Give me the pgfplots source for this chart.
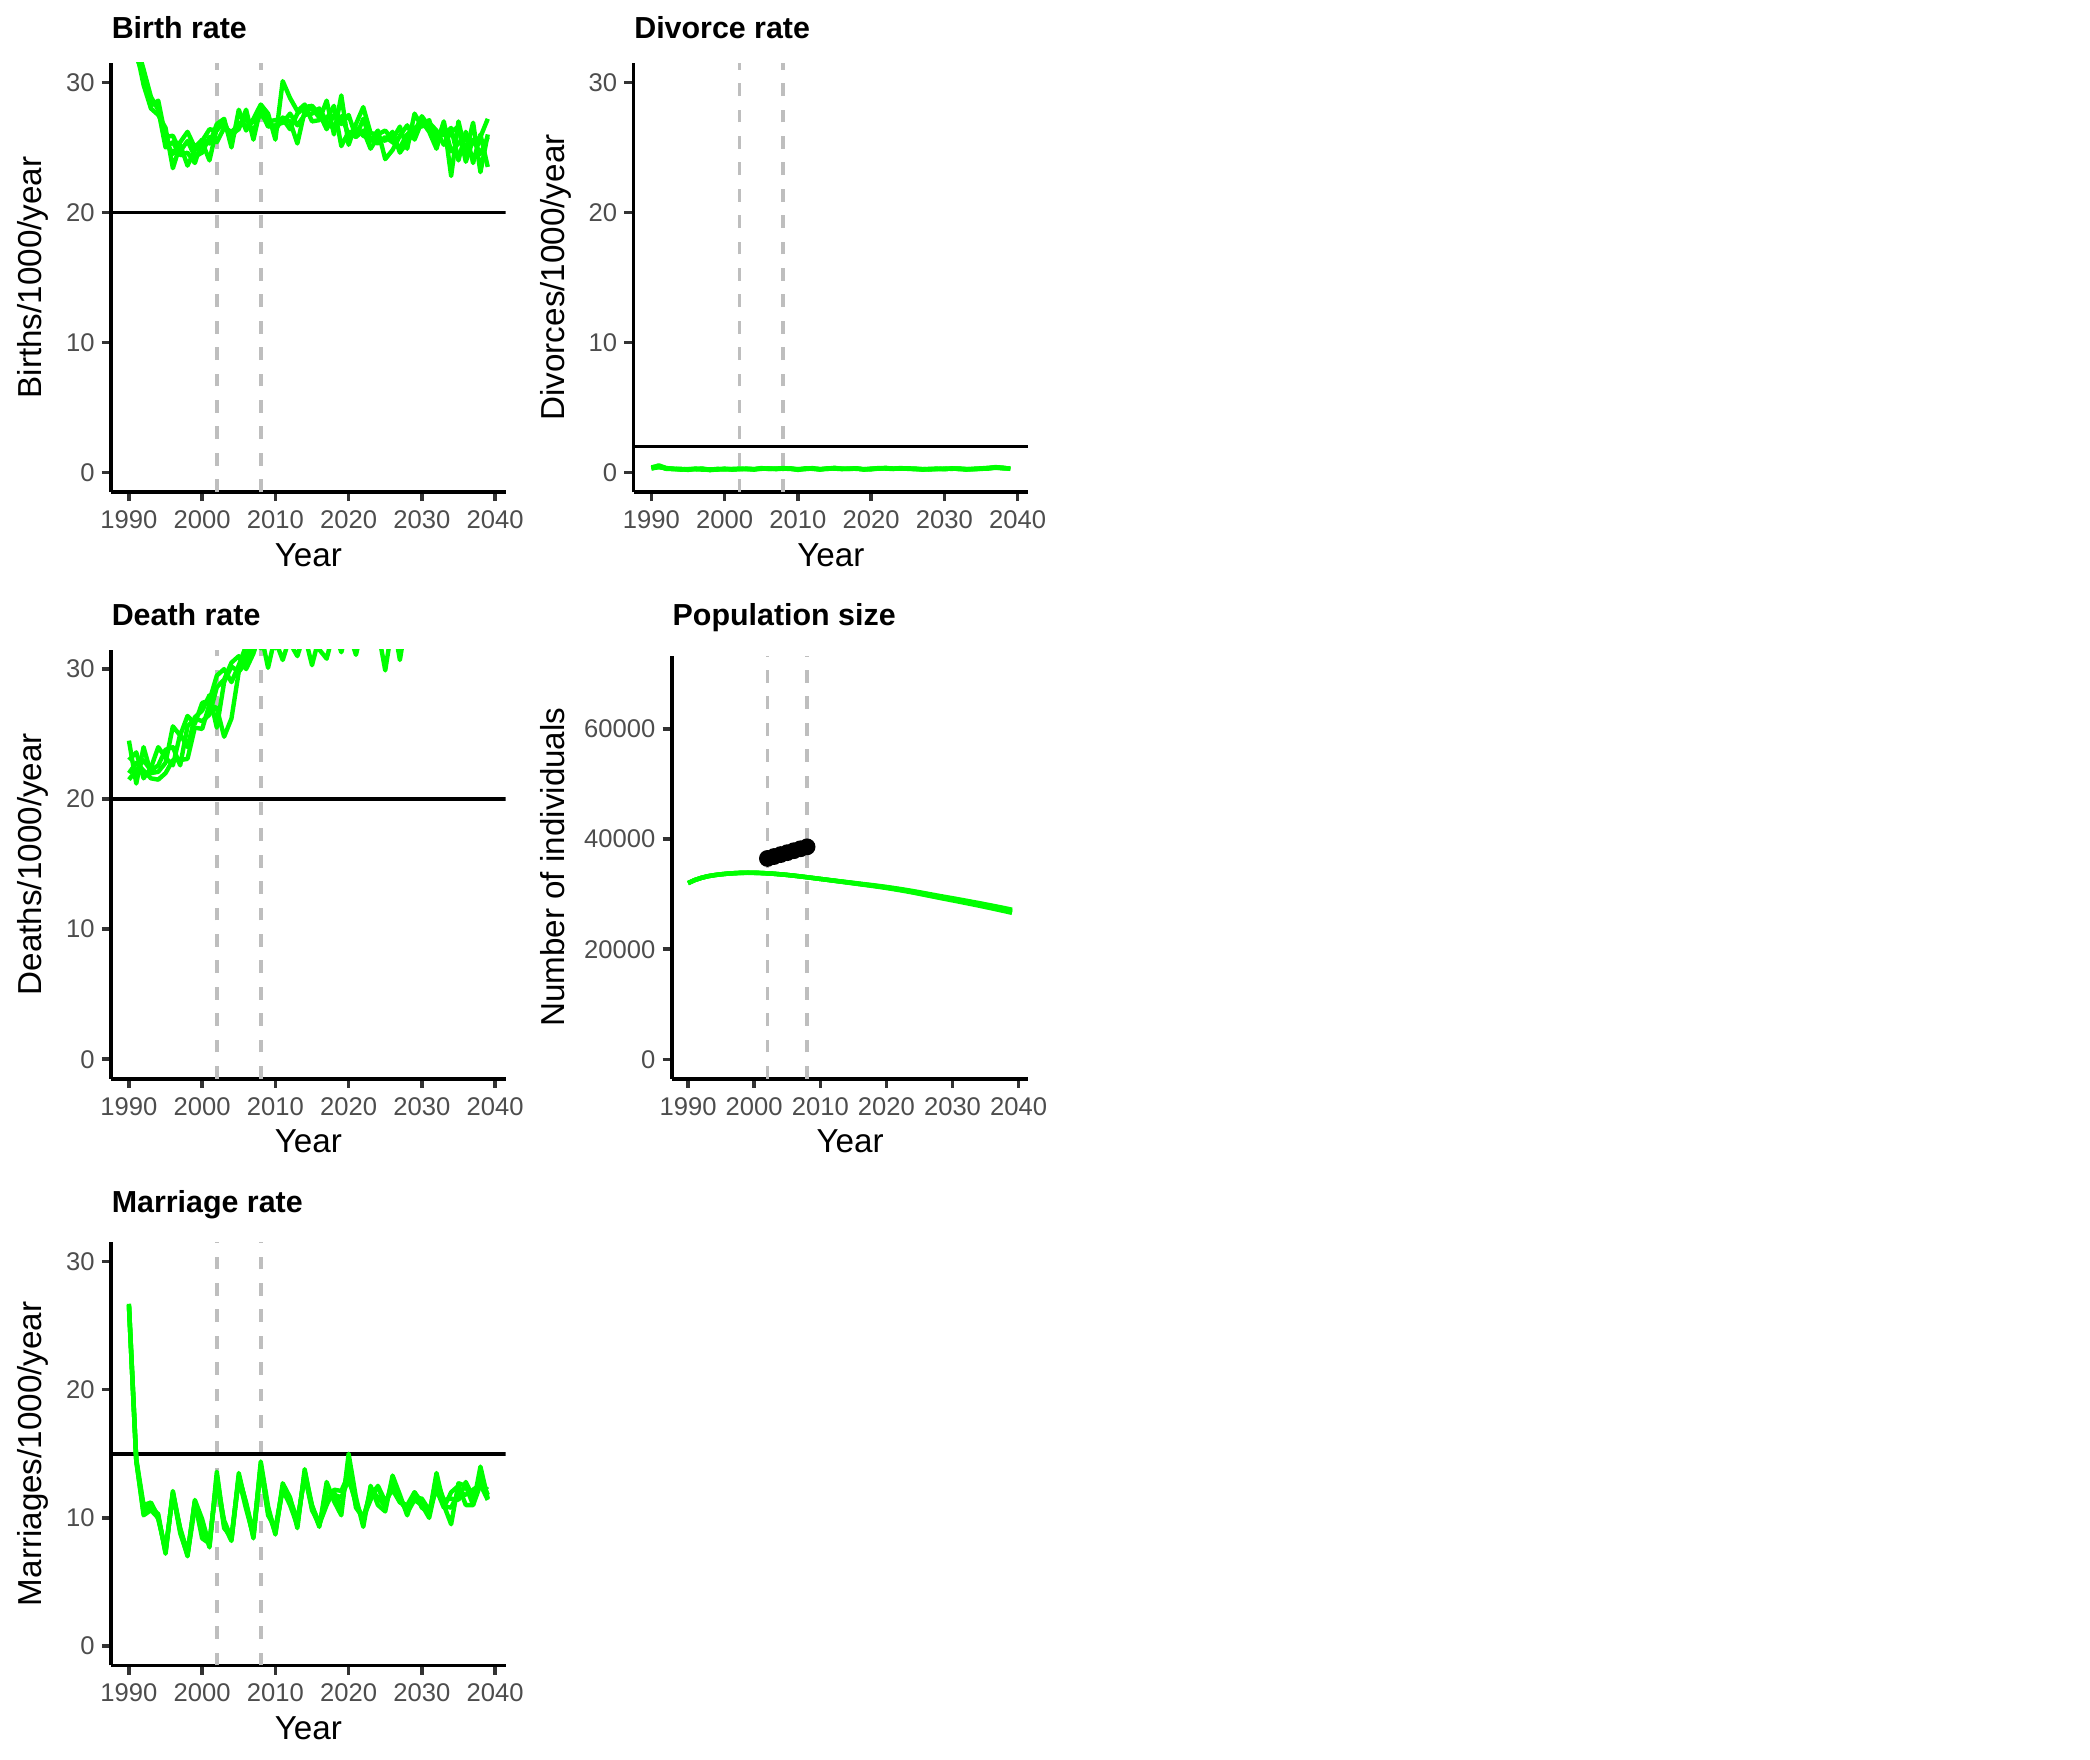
\documentclass[border=0pt]{standalone}
\usepackage{fontspec}
\setmainfont{Liberation Sans}
\usepackage{pgfplots}
\usepackage{pgfplotstable}
\pgfplotsset{compat=1.18}

\definecolor{simgreen}{HTML}{00FF00}
\definecolor{gray30}{HTML}{4D4D4D}
\definecolor{tickgray}{HTML}{333333}
\definecolor{vgray}{HTML}{BEBEBE}

\newcommand\ticksize{\fontsize{6.4bp}{7.7bp}\selectfont}
\newcommand\labsize{\fontsize{8.3bp}{10bp}\selectfont}
\newcommand\titsize{\fontsize{7.6bp}{9bp}\selectfont\bfseries}

% year, four simulation runs
\pgfplotstableread{
year a b c d
1990 38.0 37.0 36.0 35.0
1991 33.5 32.5 33.0 32.0
1992 30.0 29.8 31.0 30.5
1993 28.5 28.0 28.9 28.2
1994 28.3 27.5 27.9 28.6
1995 25.5 26.5 25.0 25.8
1996 24.5 23.4 25.4 25.9
1997 25.4 25.2 24.4 24.7
1998 26.2 23.6 24.6 25.5
1999 25.0 24.8 23.8 24.3
2000 25.6 25.4 25.5 24.6
2001 25.3 24.0 26.4 25.8
2002 26.8 26.5 26.3 25.4
2003 27.2 26.7 27.0 26.5
2004 25.0 26.0 25.6 26.2
2005 27.9 26.4 26.9 26.7
2006 26.3 27.9 26.6 27.2
2007 27.2 25.6 27.0 26.2
2008 28.3 28.1 27.5 27.8
2009 27.6 27.2 27.0 26.6
2010 25.6 26.3 27.1 26.7
2011 30.1 27.3 27.2 26.9
2012 28.8 27.0 26.4 27.6
2013 27.8 25.3 27.6 26.7
2014 28.3 27.8 28.1 27.5
2015 27.0 28.0 28.2 27.6
2016 27.1 27.3 27.6 28.0
2017 28.6 27.2 26.4 27.0
2018 26.0 28.2 27.5 26.4
2019 29.0 25.1 26.8 27.4
2020 25.2 26.2 27.5 26.0
2021 26.8 25.8 25.8 26.5
2022 28.1 26.3 27.2 25.9
2023 26.1 24.9 25.5 25.6
2024 26.0 25.8 26.3 25.3
2025 26.3 25.5 24.1 25.8
2026 25.6 26.2 24.8 25.4
2027 26.6 24.6 25.9 25.0
2028 24.9 25.4 26.7 26.0
2029 27.6 26.2 25.6 26.5
2030 26.6 27.4 27.0 26.8
2031 27.1 26.6 26.2 26.9
2032 25.2 25.8 24.9 26.3
2033 27.0 26.0 26.9 25.2
2034 22.8 26.5 24.7 26.2
2035 27.0 24.0 25.3 26.6
2036 24.6 26.2 26.0 23.9
2037 26.9 23.8 25.4 25.6
2038 23.1 26.0 25.8 24.5
2039 26.0 23.5 27.2 25.8
}\births

\pgfplotstableread{
year a b c d
1990 0.35 0.30 0.40 0.32
1991 0.55 0.45 0.50 0.40
1992 0.35 0.30 0.28 0.33
1993 0.28 0.25 0.30 0.27
1994 0.22 0.26 0.24 0.28
1995 0.25 0.20 0.27 0.23
1996 0.30 0.28 0.25 0.26
1997 0.26 0.30 0.22 0.28
1998 0.18 0.22 0.25 0.20
1999 0.24 0.28 0.22 0.26
2000 0.28 0.25 0.30 0.24
2001 0.22 0.26 0.24 0.27
2002 0.26 0.28 0.25 0.30
2003 0.30 0.27 0.28 0.25
2004 0.24 0.22 0.27 0.26
2005 0.34 0.30 0.28 0.32
2006 0.28 0.30 0.32 0.27
2007 0.27 0.31 0.26 0.30
2008 0.32 0.28 0.30 0.34
2009 0.30 0.32 0.27 0.29
2010 0.20 0.25 0.22 0.26
2011 0.28 0.30 0.32 0.26
2012 0.34 0.30 0.28 0.31
2013 0.24 0.27 0.22 0.26
2014 0.30 0.28 0.32 0.27
2015 0.36 0.32 0.30 0.34
2016 0.28 0.30 0.26 0.29
2017 0.29 0.27 0.31 0.28
2018 0.33 0.30 0.28 0.31
2019 0.22 0.26 0.24 0.25
2020 0.27 0.24 0.28 0.30
2021 0.32 0.30 0.34 0.29
2022 0.36 0.33 0.30 0.34
2023 0.28 0.31 0.27 0.29
2024 0.33 0.30 0.35 0.31
2025 0.30 0.32 0.28 0.29
2026 0.27 0.30 0.26 0.28
2027 0.24 0.27 0.25 0.22
2028 0.26 0.24 0.28 0.25
2029 0.28 0.26 0.30 0.27
2030 0.27 0.30 0.25 0.28
2031 0.30 0.28 0.32 0.29
2032 0.28 0.31 0.26 0.30
2033 0.22 0.26 0.24 0.27
2034 0.27 0.25 0.29 0.26
2035 0.30 0.28 0.32 0.29
2036 0.34 0.30 0.36 0.32
2037 0.42 0.38 0.40 0.36
2038 0.35 0.32 0.38 0.33
2039 0.30 0.33 0.28 0.31
}\divorces

\pgfplotstableread{
year a b c d
1990 24.5 23.0 22.0 21.5
1991 21.2 23.6 22.8 22.2
1992 24.0 21.6 22.2 23.0
1993 22.0 22.4 21.6 22.2
1994 22.1 24.0 21.5 22.6
1995 22.8 23.2 22.0 23.8
1996 25.6 22.6 23.0 24.0
1997 24.9 25.0 23.0 22.6
1998 26.4 24.0 23.1 25.6
1999 25.8 26.3 25.5 26.2
2000 27.4 26.8 25.4 26.0
2001 27.6 28.0 27.3 26.5
2002 29.5 25.5 27.0 28.6
2003 30.0 29.0 24.8 29.2
2004 29.0 30.2 26.2 30.5
2005 30.3 29.8 29.8 31.0
2006 31.8 31.0 30.5 30.0
2007 32.5 32.2 31.7 31.2
2008 31.6 32.8 32.3 33.0
2009 33.0 30.1 32.8 32.0
2010 32.2 32.6 31.6 33.1
2011 30.7 33.0 32.4 32.2
2012 32.5 32.0 33.0 33.5
2013 33.0 31.0 32.3 32.7
2014 32.6 32.8 33.2 33.0
2015 30.3 32.0 32.6 33.4
2016 32.5 31.5 33.1 32.2
2017 33.2 30.8 32.5 33.5
2018 32.5 33.0 33.0 32.8
2019 33.0 32.2 31.3 33.6
2020 32.8 32.9 33.4 33.2
2021 33.3 31.1 33.0 33.8
2022 32.6 33.5 33.6 33.1
2023 33.5 32.8 33.2 34.0
2024 33.0 33.6 33.9 33.4
2025 29.9 33.2 34.0 33.8
2026 33.5 34.0 33.5 34.2
2027 33.0 30.7 34.1 33.9
2028 33.4 34.2 34.4 34.3
2029 34.0 33.8 34.1 34.6
2030 33.8 34.5 34.6 34.2
2031 34.3 34.1 34.9 34.7
2032 34.6 34.8 34.4 35.0
2033 34.2 35.0 35.1 34.6
2034 34.9 34.6 34.8 35.2
2035 35.1 35.3 35.0 34.9
2036 34.8 35.0 35.4 35.3
2037 35.3 35.5 35.1 35.6
2038 35.0 35.2 35.6 35.4
2039 35.5 35.7 35.3 35.8
}\deaths

\pgfplotstableread{
year a b c d
1990 32000 31990 32010 32000
1991 32550 32540 32560 32550
1992 32950 32940 32960 32950
1993 33250 33240 33260 33250
1994 33450 33440 33460 33450
1995 33600 33590 33610 33600
1996 33720 33710 33730 33720
1997 33800 33790 33810 33800
1998 33860 33850 33870 33860
1999 33880 33870 33890 33880
2000 33870 33860 33880 33870
2001 33830 33820 33840 33830
2002 33770 33760 33780 33770
2003 33690 33680 33700 33690
2004 33590 33580 33600 33590
2005 33480 33470 33490 33480
2006 33350 33340 33360 33350
2007 33210 33200 33220 33210
2008 33060 33050 33070 33060
2009 32910 32900 32920 32910
2010 32760 32760 32760 32760
2011 32610 32598 32618 32605
2012 32460 32436 32476 32450
2013 32310 32274 32334 32295
2014 32160 32112 32192 32140
2015 32010 31950 32050 31985
2016 31860 31788 31908 31830
2017 31710 31626 31766 31675
2018 31560 31464 31624 31520
2019 31400 31292 31472 31355
2020 31230 31110 31310 31180
2021 31050 30918 31138 30995
2022 30860 30716 30956 30800
2023 30660 30504 30764 30595
2024 30450 30282 30562 30380
2025 30230 30050 30350 30155
2026 30000 29808 30128 29920
2027 29770 29566 29906 29685
2028 29540 29324 29684 29450
2029 29320 29092 29472 29225
2030 29100 28860 29260 29000
2031 28880 28628 29048 28775
2032 28650 28386 28826 28540
2033 28420 28144 28604 28305
2034 28190 27902 28382 28070
2035 27950 27650 28150 27825
2036 27710 27398 27918 27580
2037 27460 27136 27676 27325
2038 27210 26874 27434 27070
2039 26950 26602 27182 26805
}\popsize

\pgfplotstableread{
year n
2002 36470
2003 36820
2004 37170
2005 37520
2006 37880
2007 38230
2008 38580
}\popobs

\pgfplotstableread{
year a b c d
1990 26.7 26.6 26.5 26.6
1991 14.6 14.4 14.5 14.5
1992 11.0 10.4 10.2 10.8
1993 11.2 11.0 10.6 10.8
1994 10.1 9.9 10.0 10.3
1995 7.3 7.6 7.4 7.2
1996 12.0 11.8 11.9 12.1
1997 9.0 9.2 8.8 9.1
1998 7.0 7.3 7.1 7.2
1999 11.4 11.2 10.8 11.3
2000 9.9 8.4 9.6 9.2
2001 7.8 8.0 7.7 8.2
2002 13.6 13.0 13.3 12.8
2003 9.4 9.2 9.5 9.8
2004 8.2 8.5 8.3 8.4
2005 13.5 13.2 13.0 13.3
2006 11.0 11.2 10.7 11.1
2007 8.5 8.8 8.6 8.4
2008 14.4 14.0 14.2 13.8
2009 10.9 10.2 10.6 10.5
2010 8.7 9.2 9.0 8.8
2011 12.7 12.4 12.2 12.5
2012 11.6 11.3 11.0 11.5
2013 9.2 9.6 9.4 9.8
2014 13.8 13.4 13.6 13.2
2015 10.8 10.6 11.0 10.9
2016 9.3 9.5 9.4 9.6
2017 12.8 11.0 12.0 11.6
2018 11.3 12.2 12.0 11.8
2019 10.2 12.1 10.8 11.6
2020 15.0 13.4 14.4 13.0
2021 11.6 11.0 10.8 11.2
2022 9.3 10.0 10.0 9.8
2023 12.5 12.0 11.4 12.2
2024 11.0 12.4 12.5 11.6
2025 10.5 11.0 11.3 10.9
2026 13.3 12.6 12.2 12.9
2027 11.8 11.3 11.2 11.6
2028 10.2 10.6 11.0 10.4
2029 12.0 11.6 12.0 11.4
2030 11.2 11.5 10.8 11.0
2031 10.2 10.6 10.4 10.0
2032 13.5 12.2 13.0 12.6
2033 11.0 10.8 11.4 10.9
2034 9.5 12.0 11.5 10.8
2035 12.7 12.5 11.4 12.0
2036 12.5 11.0 12.8 11.8
2037 11.0 11.0 11.6 12.2
2038 14.0 12.6 13.2 12.6
2039 11.5 12.2 11.8 11.4
}\marriages

\pgfplotsset{
  panel/.style={
    scale only axis, anchor=south west,
    axis x line*=bottom, axis y line*=left,
    axis line style={line width=0.9bp, black},
    tick align=outside, xtick pos=left, ytick pos=left,
    major tick length=2.3bp,
    tick style={line width=0.9bp, color=tickgray},
    tick label style={font=\ticksize, text=gray30},
    xticklabel style={yshift=1.2bp},
    yticklabel style={xshift=1.7bp},
    scaled y ticks=false,
    xmin=1987.55, xmax=2041.45,
    xtick={1990,2000,2010,2020,2030,2040},
    xticklabels={1990,2000,2010,2020,2030,2040},
  },
  rate/.style={ymin=-1.5, ymax=31.5, ytick={0,10,20,30}, yticklabels={0,10,20,30}},
  sim/.style={simgreen, line width=1.1bp, line join=round},
  vref/.style={vgray, line width=0.9bp, dash pattern=on 3.2bp off 3.4bp},
  href/.style={black, line width=0.9bp},
}

\begin{document}
\begin{tikzpicture}[lab/.style={inner sep=0pt}]
\useasboundingbox (0,0) rectangle (522.5bp,-440bp);

% Birth rate
\begin{axis}[panel, rate, at={(27.75bp,-123bp)}, width=98.675bp, height=107.275bp]
  \addplot[vref] coordinates {(2002,-1.5) (2002,31.5)};
  \addplot[vref] coordinates {(2008,-1.5) (2008,31.5)};
  \addplot[href] coordinates {(1987.55,20) (2041.45,20)};
  \addplot[sim] table[x=year,y=a] {\births};
  \addplot[sim] table[x=year,y=b] {\births};
  \addplot[sim] table[x=year,y=c] {\births};
  \addplot[sim] table[x=year,y=d] {\births};
\end{axis}

% Divorce rate
\begin{axis}[panel, rate, at={(158.375bp,-123bp)}, width=98.675bp, height=107.275bp]
  \addplot[vref] coordinates {(2002,-1.5) (2002,31.5)};
  \addplot[vref] coordinates {(2008,-1.5) (2008,31.5)};
  \addplot[href] coordinates {(1987.55,2) (2041.45,2)};
  \addplot[sim] table[x=year,y=a] {\divorces};
  \addplot[sim] table[x=year,y=b] {\divorces};
  \addplot[sim] table[x=year,y=c] {\divorces};
  \addplot[sim] table[x=year,y=d] {\divorces};
\end{axis}

% Death rate
\begin{axis}[panel, rate, at={(27.75bp,-269.675bp)}, width=98.675bp, height=107.275bp]
  \addplot[vref] coordinates {(2002,-1.5) (2002,31.5)};
  \addplot[vref] coordinates {(2008,-1.5) (2008,31.5)};
  \addplot[href] coordinates {(1987.55,20) (2041.45,20)};
  \addplot[sim] table[x=year,y=a] {\deaths};
  \addplot[sim] table[x=year,y=b] {\deaths};
  \addplot[sim] table[x=year,y=c] {\deaths};
  \addplot[sim] table[x=year,y=d] {\deaths};
\end{axis}

% Population size
\begin{axis}[panel, at={(167.975bp,-269.675bp)}, width=89.075bp, height=105.8bp,
  ymin=-3490, ymax=73290, ytick={0,20000,40000,60000},
  yticklabels={0,20000,40000,60000}]
  \addplot[vref] coordinates {(2002,-3490) (2002,73290)};
  \addplot[vref] coordinates {(2008,-3490) (2008,73290)};
  \addplot[sim] table[x=year,y=a] {\popsize};
  \addplot[sim] table[x=year,y=b] {\popsize};
  \addplot[sim] table[x=year,y=c] {\popsize};
  \addplot[sim] table[x=year,y=d] {\popsize};
  \addplot[only marks, mark=*, mark size=1.9bp, black] table[x=year,y=n] {\popobs};
\end{axis}

% Marriage rate
\begin{axis}[panel, rate, at={(27.75bp,-416.325bp)}, width=98.675bp, height=105.775bp]
  \addplot[vref] coordinates {(2002,-1.5) (2002,31.5)};
  \addplot[vref] coordinates {(2008,-1.5) (2008,31.5)};
  \addplot[href] coordinates {(1987.55,15) (2041.45,15)};
  \addplot[sim] table[x=year,y=a] {\marriages};
  \addplot[sim] table[x=year,y=b] {\marriages};
  \addplot[sim] table[x=year,y=c] {\marriages};
  \addplot[sim] table[x=year,y=d] {\marriages};
\end{axis}

% titles and axis titles
\node[lab, anchor=base west] at (27.75bp,-9.7bp) {\titsize Birth rate};
\node[lab, anchor=base west] at (158.375bp,-9.7bp) {\titsize Divorce rate};
\node[lab, anchor=base west] at (27.75bp,-156.37bp) {\titsize Death rate};
\node[lab, anchor=base west] at (167.975bp,-156.37bp) {\titsize Population size};
\node[lab, anchor=base west] at (27.75bp,-303.03bp) {\titsize Marriage rate};

\node[lab, rotate=90, anchor=base] at (10.425bp,-69.36bp) {\labsize Births/1000/year};
\node[lab, rotate=90, anchor=base] at (141.05bp,-69.36bp) {\labsize Divorces/1000/year};
\node[lab, rotate=90, anchor=base] at (10.425bp,-216.04bp) {\labsize Deaths/1000/year};
\node[lab, rotate=90, anchor=base] at (141.05bp,-216.78bp) {\labsize Number of individuals};
\node[lab, rotate=90, anchor=base] at (10.425bp,-363.44bp) {\labsize Marriages/1000/year};

\node[lab, anchor=base] at (77.09bp,-141.5bp) {\labsize Year};
\node[lab, anchor=base] at (207.71bp,-141.5bp) {\labsize Year};
\node[lab, anchor=base] at (77.09bp,-288.17bp) {\labsize Year};
\node[lab, anchor=base] at (212.51bp,-288.17bp) {\labsize Year};
\node[lab, anchor=base] at (77.09bp,-434.83bp) {\labsize Year};
\end{tikzpicture}
\end{document}
